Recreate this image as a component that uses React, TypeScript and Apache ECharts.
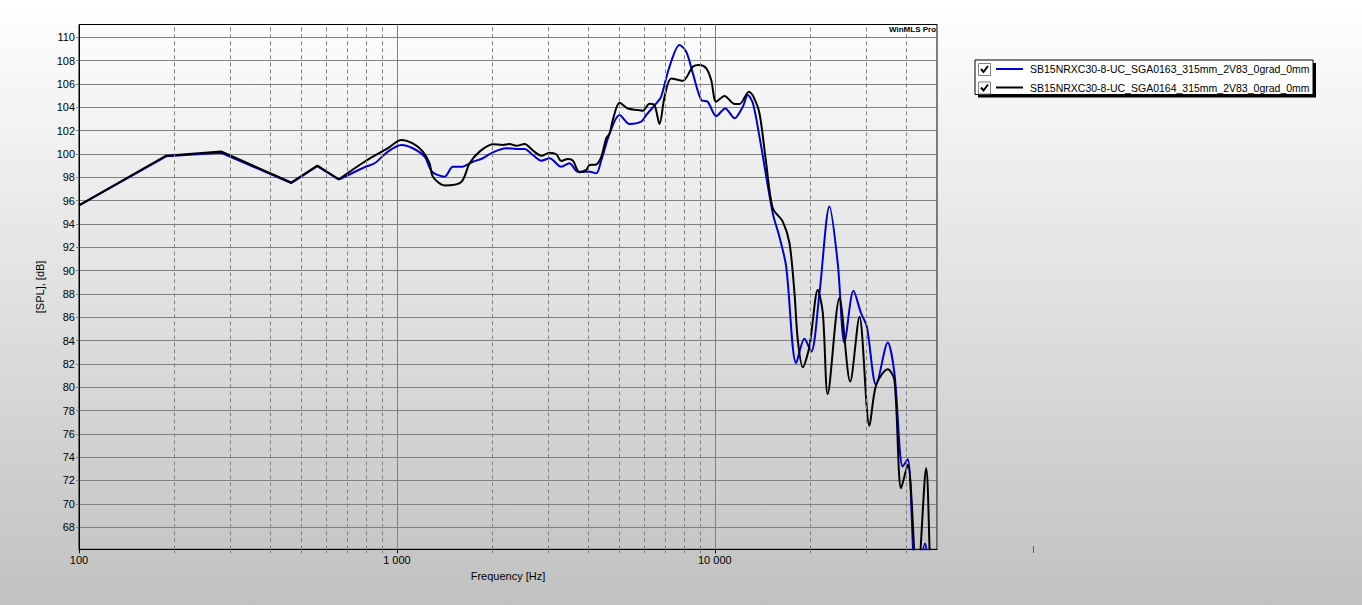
import React, { useEffect, useRef } from "react";
import * as echarts from "echarts";

const blueName = "SB15NRXC30-8-UC_SGA0163_315mm_2V83_0grad_0mm";
const blackName = "SB15NRXC30-8-UC_SGA0164_315mm_2V83_0grad_0mm";

const blueFreq = [100, 188, 280, 465, 562, 657, 791, 851, 937, 1032, 1122, 1222, 1290, 1412, 1500, 1594, 1734, 1863, 2004, 2208, 2374, 2521, 2677, 2847, 3021, 3289, 3491, 3707, 4037, 4237, 4397, 4670, 5016, 5393, 5866, 6086, 6615, 6780, 7203, 7745, 8130, 8530, 9062, 9500, 10100, 10790, 11540, 12250, 12700, 13180, 13820, 15220, 15970, 16770, 18030, 19140, 20100, 21340, 22950, 24370, 25590, 27310, 28850, 30070, 32180, 35000, 36730, 39000, 40460, 43000, 45800, 47500, 50000];
const blueSpl = [95.6, 99.8, 100.1, 97.5, 98.95, 97.8, 98.86, 99.2, 100.2, 100.77, 100.49, 99.77, 98.48, 98.05, 98.9, 98.9, 99.33, 99.63, 100.14, 100.49, 100.43, 100.43, 99.91, 99.42, 99.63, 98.9, 99.2, 98.48, 98.48, 98.34, 99.48, 101.77, 103.34, 102.57, 102.77, 103.34, 104.48, 104.9, 107.48, 109.34, 108.77, 106.91, 104.63, 104.48, 103.25, 103.9, 103.06, 104.05, 105.05, 104.34, 101.48, 94.9, 92.9, 90.34, 82.06, 84.15, 83.05, 88.06, 95.5, 90.6, 83.77, 88.26, 86.34, 85.2, 80.2, 83.83, 81.2, 73.2, 73.83, 63, 66.6, 62, 60];

const blackFreq = [100, 188, 280, 465, 562, 657, 791, 937, 1032, 1122, 1207, 1267, 1298, 1412, 1594, 1693, 1820, 2004, 2155, 2262, 2374, 2521, 2677, 2847, 3021, 3171, 3289, 3451, 3578, 3754, 3940, 4037, 4237, 4397, 4555, 4670, 4776, 5016, 5325, 5728, 5937, 6232, 6460, 6700, 6950, 7295, 7932, 8530, 8952, 9400, 9743, 10100, 10730, 11540, 11960, 12800, 13180, 13820, 14510, 15220, 16360, 17180, 17810, 18240, 18910, 19850, 21090, 21870, 22650, 24660, 26660, 28510, 30660, 32180, 35000, 36730, 38550, 40460, 43300, 46210, 48200, 50000];
const blackSpl = [95.6, 99.85, 100.22, 97.55, 99.0, 97.83, 99.33, 100.5, 101.2, 100.9, 100.2, 99.2, 98.05, 97.3, 97.6, 99.2, 100.2, 100.83, 100.77, 100.85, 100.7, 100.85, 100.3, 99.85, 100.1, 99.97, 99.4, 99.57, 99.42, 98.43, 98.63, 99.05, 99.1, 99.77, 101.34, 101.77, 102.9, 104.4, 103.9, 103.77, 103.7, 104.3, 104.2, 102.57, 104.9, 106.48, 106.28, 107.48, 107.63, 107.34, 106.34, 104.48, 104.97, 104.28, 104.28, 105.34, 105.0, 103.49, 99.2, 95.34, 94.2, 92.34, 88.06, 84.06, 81.7, 83.5, 88.34, 86.34, 79.4, 87.63, 80.48, 86.05, 76.69, 80.2, 81.54, 80.63, 71.34, 73.34, 63, 73.06, 61, 60];

const yTicks = [68, 70, 72, 74, 76, 78, 80, 82, 84, 86, 88, 90, 92, 94, 96, 98, 100, 102, 104, 106, 108, 110];
const minorFreqs = [200, 300, 400, 500, 600, 700, 800, 900, 2000, 3000, 4000, 5000, 6000, 7000, 8000, 9000, 20000, 30000, 40000];

// below this frequency the measurement is sparse and drawn with straight segments
const linearUpTo = 657;

const FONT = "'Liberation Sans', Arial, sans-serif";

function fmtHz(v: number): string {
  const r = Math.round(v);
  if (r >= 50000) return "";
  return String(r).replace(/\B(?=(\d{3})+(?!\d))/g, " ");
}

export default function App() {
  const ref = useRef<HTMLDivElement>(null);
  useEffect(() => {
    if (!ref.current) return;
    const chart = echarts.init(ref.current, null, { renderer: "svg" });
    const bluePts = blueFreq.map((f, i) => [f, blueSpl[i]]);
    const blackPts = blackFreq.map((f, i) => [f, blackSpl[i]]);
    const legendX = 975;
    const legendY = 60;
    const legendW = 338;
    const legendH = 34.5;
    const rows = [
      { y: 69, color: "#0000d0", name: blueName },
      { y: 87.5, color: "#000000", name: blackName },
    ];
    const legendChildren: any[] = [
      { type: "rect", shape: { x: legendX + 3, y: legendY + 3, width: legendW, height: legendH }, style: { fill: "#000" } },
      { type: "rect", shape: { x: legendX, y: legendY, width: legendW, height: legendH }, style: { fill: "#fff", stroke: "#000", lineWidth: 1 } },
    ];
    rows.forEach((r) => {
      legendChildren.push(
        { type: "rect", shape: { x: 978.5, y: r.y - 5.5, width: 12, height: 12 }, style: { fill: "#fff", stroke: "#808080", lineWidth: 1 } },
        { type: "polyline", shape: { points: [[981, r.y], [983.5, r.y + 3], [988, r.y - 3]] }, style: { fill: "none", stroke: "#000", lineWidth: 2 } },
        { type: "line", shape: { x1: 996, y1: r.y, x2: 1023, y2: r.y }, style: { stroke: r.color, lineWidth: 2 } },
        { type: "text", x: 1030, y: r.y, style: { text: r.name, fill: "#000", font: `10.5px ${FONT}`, verticalAlign: "middle", align: "left" } }
      );
    });
    const curve = (name: string, pts: number[][], color: string, z: number) => [
      {
        type: "line",
        name,
        data: pts.filter((p) => p[0] <= linearUpTo),
        showSymbol: false,
        symbol: "none",
        smooth: false,
        clip: true,
        z,
        lineStyle: { color, width: 2 },
      },
      {
        type: "line",
        name,
        data: pts.filter((p) => p[0] >= linearUpTo),
        showSymbol: false,
        symbol: "none",
        smooth: 0.3,
        clip: true,
        z,
        lineStyle: { color, width: 2 },
      },
    ];
    chart.setOption({
      animation: false,
      textStyle: { fontFamily: FONT },
      grid: { left: 79, top: 24.5, width: 858, height: 524.8, show: true, borderColor: "#000", borderWidth: 1, backgroundColor: "transparent", containLabel: false },
      xAxis: [
        {
          type: "log",
          logBase: 10,
          min: 100,
          max: 50000,
          position: "bottom",
          name: "Frequency [Hz]",
          nameLocation: "middle",
          nameGap: 19,
          nameTextStyle: { fontSize: 11, color: "#000", fontFamily: FONT },
          axisLine: { show: true, lineStyle: { color: "#000", width: 1 } },
          axisTick: { show: true, length: 4, lineStyle: { color: "#000" } },
          axisLabel: { show: true, margin: 5, fontSize: 11, color: "#000", fontFamily: FONT, showMaxLabel: false, formatter: (v: number) => fmtHz(v) },
          splitLine: { show: true, lineStyle: { color: "#808080", width: 1, type: "solid" } },
          minorTick: { show: false },
          minorSplitLine: { show: false },
        },
        {
          type: "log",
          logBase: 10,
          min: 100,
          max: 50000,
          position: "bottom",
          offset: 0,
          axisLine: { show: false },
          axisTick: { show: true, length: 4, lineStyle: { color: "#808080" }, customValues: minorFreqs },
          axisLabel: { show: false },
          splitLine: { show: false },
        },
      ],
      yAxis: {
        type: "value",
        min: 66.1,
        max: 111.1,
        name: "[SPL], [dB]",
        nameLocation: "middle",
        nameRotate: 90,
        nameGap: 25,
        nameTextStyle: { fontSize: 11, color: "#000", fontFamily: FONT },
        axisLine: { show: true, lineStyle: { color: "#000" } },
        axisTick: { show: true, length: 3, lineStyle: { color: "#808080" }, customValues: yTicks },
        axisLabel: { show: true, margin: 4, fontSize: 11, color: "#000", fontFamily: FONT, customValues: yTicks },
        splitLine: { show: true, lineStyle: { color: "#808080", width: 1 } },
      },
      graphic: [
        { type: "text", x: 889, y: 29, style: { text: "WinMLS Pro", fill: "#000", font: `bold 8px ${FONT}`, verticalAlign: "middle", align: "left" } },
        { type: "line", shape: { x1: 1033.5, y1: 546, x2: 1033.5, y2: 553 }, style: { stroke: "#606060", lineWidth: 1 } },
        { type: "group", children: legendChildren },
      ],
      series: [
        {
          type: "line",
          name: "grid",
          data: [],
          silent: true,
          z: 1,
          markLine: {
            silent: true,
            symbol: "none",
            label: { show: false },
            lineStyle: { color: "#808080", width: 1, type: [4, 3] },
            data: minorFreqs.map((f) => ({ xAxis: f })),
          },
        },
        ...curve(blueName, bluePts, "#0000d0", 3),
        ...curve(blackName, blackPts, "#000000", 4),
      ],
    });
    return () => chart.dispose();
  }, []);
  return (
    <div
      ref={ref}
      style={{
        position: "absolute",
        left: 0,
        top: 0,
        width: 1362,
        height: 605,
        background: "linear-gradient(to bottom, #ffffff 0%, #c1c1c1 100%)",
      }}
    />
  );
}
